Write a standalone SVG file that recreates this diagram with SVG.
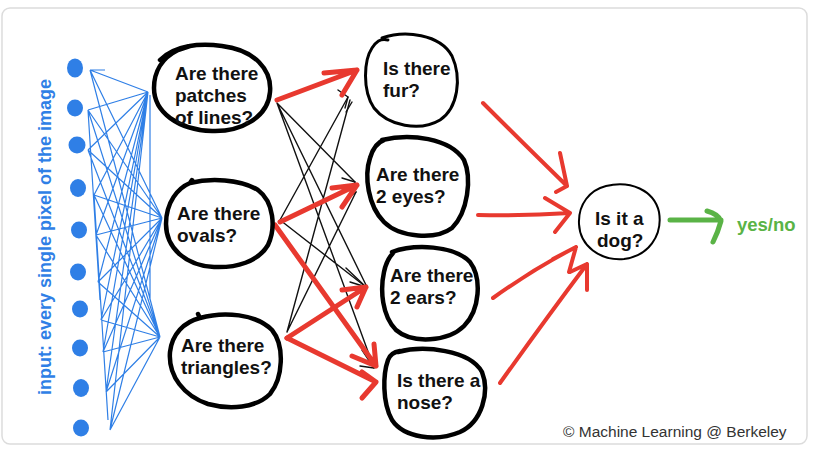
<svg xmlns="http://www.w3.org/2000/svg" width="818" height="452" viewBox="0 0 818 452">
<style>
.node{fill:none;stroke:#000;stroke-width:4.5;stroke-linecap:round}
.lbl{font-family:"Liberation Sans",Arial,sans-serif;font-weight:bold;font-size:19px;fill:#111}
.blue{stroke:#2f7fe6;stroke-width:1.2;fill:none}
.blk{stroke:#111;stroke-width:1.4;fill:none;stroke-linecap:round;stroke-linejoin:round}
.red{stroke:#e8392f;stroke-width:5;fill:none;stroke-linecap:round;stroke-linejoin:round}
.red2{stroke:#e8392f;stroke-width:4;fill:none;stroke-linecap:round;stroke-linejoin:round}
.grn{stroke:#5ab346;stroke-width:5;fill:none;stroke-linecap:round;stroke-linejoin:round}
</style>
<rect x="0" y="0" width="818" height="452" fill="#fff"/>
<rect x="2" y="8" width="805" height="436" rx="8" fill="#fff" stroke="#dcdcdc" stroke-width="1.5"/>

<g id="input">
<text transform="translate(51,237) rotate(-90)" text-anchor="middle" font-family="Liberation Sans, Arial, sans-serif" font-weight="bold" font-size="18" fill="#2f7fe6">input: every single pixel of the image</text>
<g fill="#2f7fe6">
<ellipse cx="75" cy="68" rx="8" ry="9.5"/>
<ellipse cx="75" cy="108" rx="8" ry="8.5"/>
<ellipse cx="77" cy="145" rx="8.5" ry="8.5"/>
<ellipse cx="78" cy="188" rx="8" ry="9"/>
<ellipse cx="79" cy="230" rx="8" ry="8.5"/>
<ellipse cx="78" cy="272" rx="8" ry="8.5"/>
<ellipse cx="80" cy="309" rx="8" ry="8.5"/>
<ellipse cx="80" cy="348" rx="8" ry="8.5"/>
<ellipse cx="81" cy="388" rx="8" ry="9"/>
<ellipse cx="81" cy="428" rx="8" ry="8.5"/>
</g>
<path class="blue" d="M90,70 L148,92 M90,70 L162,218 M90,70 L160,337
M88,110 L148,92 M88,110 L162,218 M88,110 L160,337
M88,150 L148,92 M88,150 L162,218 M88,150 L160,337
M94,195 L148,92 M94,195 L162,218 M94,195 L160,337
M96,235 L148,92 M96,235 L162,218 M96,235 L160,337
M98,282 L148,92 M98,282 L162,218 M98,282 L160,337
M101,320 L148,92 M101,320 L162,218 M101,320 L160,337
M103,352 L148,92 M103,352 L162,218 M103,352 L160,337
M106,392 L148,92 M106,392 L162,218 M106,392 L160,337
M110,430 L148,92 M110,430 L162,218 M110,430 L160,337
M90,70 L105,70 M88,110 L100,300 M94,195 L108,420 M150,95 L150,300"/>
</g>

<g id="connectors">
<path class="blk" d="M277,103 L355,182 M277,103 L366,285 M277,103 L374,368
M280,220 L348,97 M280,220 L366,287
M287,332 L350,100 M287,332 L356,192"/>
<path class="blk" d="M338,90 L348,97 L345,108 M342,178 L355,182 L350,196 M346,268 L366,287 M350,282 L366,287 M362,350 L374,368 L360,366 M352,102 L346,112 M356,192 L348,198"/>
<path class="red" d="M277,100 L357,70 M324,73 L357,70 L342,95"/>
<path class="red" d="M280,222 L357,185 M332,188 L357,185 L342,207"/>
<path class="red" d="M275,225 L376,366 M352,356 L376,366 L374,344"/>
<path class="red" d="M287,338 L366,287 M342,290 L366,287 L357,307"/>
<path class="red" d="M287,338 L376,382 M362,372 L376,382 L362,398"/>
<path class="red2" d="M483,103 Q530,150 567,186 M560,153 L567,186 L556,192"/>
<path class="red2" d="M478,215 Q525,216 570,213 M545,198 L570,213 L555,232"/>
<path class="red2" d="M493,298 Q535,268 576,247 M553,259 L576,247 L569,272"/>
<path class="red2" d="M500,383 Q545,320 587,264 M570,272 L587,264 L587,290"/>
<path class="grn" d="M670,220 L721,220 M707,211 Q718,214 721,221 Q718,232 713,242"/>
</g>

<g id="n-lines">
<path class="node" d="M160,60 C175,45 200,43 222,46 C255,50 272,70 270,92 C268,118 240,132 212,131 C178,130 154,112 154,88 C154,72 162,58 178,50 L190,46"/>
<text class="lbl" x="175" y="80">Are there</text>
<text class="lbl" x="175" y="102">patches</text>
<text class="lbl" x="175" y="124">of lines?</text>
</g>
<g id="n-ovals">
<path class="node" d="M190,183 C210,178 240,179 258,190 C274,202 276,228 268,245 C258,262 236,268 214,267 C186,266 166,248 166,224 C166,202 178,188 190,183 L192,180"/>
<text class="lbl" x="177" y="220">Are there</text>
<text class="lbl" x="177" y="242">ovals?</text>
</g>
<g id="n-triangles">
<path class="node" d="M200,318 C224,311 256,314 272,330 C285,346 283,378 270,394 C256,408 230,410 208,404 C184,396 168,376 170,352 C172,334 184,322 200,318 L198,314"/>
<text class="lbl" x="181" y="352">Are there</text>
<text class="lbl" x="181" y="374">triangles?</text>
</g>
<g id="n-fur">
<path class="node" style="stroke-width:3" d="M382,38 C405,30 440,34 452,56 C462,78 458,108 440,120 C420,132 388,126 374,108 C362,90 364,60 372,48 C376,42 380,38 388,40"/>
<text class="lbl" x="383" y="75">Is there</text>
<text class="lbl" x="383" y="97">fur?</text>
</g>
<g id="n-eyes">
<path class="node" d="M382,140 C410,133 450,138 464,160 C472,178 468,212 452,228 C436,240 400,238 384,222 C368,206 364,176 370,158 C373,148 378,142 384,140"/>
<text class="lbl" x="376" y="181">Are there</text>
<text class="lbl" x="376" y="203">2 eyes?</text>
</g>
<g id="n-ears">
<path class="node" d="M392,252 C414,244 454,245 470,262 C482,278 480,310 464,326 C448,342 412,344 396,330 C382,316 380,290 384,272 C386,262 390,256 394,252"/>
<text class="lbl" x="390" y="282">Are there</text>
<text class="lbl" x="390" y="304">2 ears?</text>
</g>
<g id="n-nose">
<path class="node" d="M398,352 C424,345 470,350 482,372 C490,392 482,422 460,432 C436,442 404,438 392,420 C382,402 383,374 388,360 C390,354 394,352 400,351"/>
<text class="lbl" x="397" y="387">Is there a</text>
<text class="lbl" x="397" y="409">nose?</text>
</g>
<g id="n-dog">
<path class="node" style="stroke-width:2" d="M606,186 C630,180 654,190 659,212 C663,236 648,256 624,259 C600,261 580,246 579,224 C578,204 590,190 606,186 L612,185"/>
<text class="lbl" x="595" y="225">Is it a</text>
<text class="lbl" x="597" y="247">dog?</text>
</g>
<g id="out">
<text x="737" y="231" font-family="Liberation Sans, Arial, sans-serif" font-weight="bold" font-size="18.5" fill="#5ab346">yes/no</text>
</g>
<text x="563" y="437" font-family="Liberation Sans, Arial, sans-serif" font-size="15.5" fill="#333">© Machine Learning @ Berkeley</text>
</svg>
